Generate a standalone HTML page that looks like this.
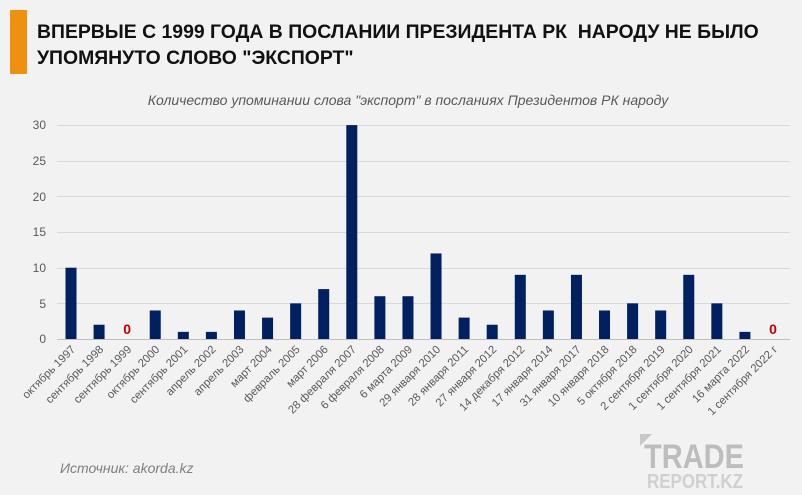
<!DOCTYPE html>
<html><head><meta charset="utf-8"><style>
body{margin:0;width:802px;height:495px;background:#f2f2f2;overflow:hidden;font-family:"Liberation Sans",sans-serif}
</style></head><body>
<svg width="802" height="495" xmlns="http://www.w3.org/2000/svg" style="position:absolute;left:0;top:0">
<rect x="10" y="10" width="17" height="64" fill="#f0900f"/>
<text x="37" y="38" font-size="19.4" font-weight="bold" fill="#111">ВПЕРВЫЕ С 1999 ГОДА В ПОСЛАНИИ ПРЕЗИДЕНТА РК&#160; НАРОДУ НЕ БЫЛО</text>
<text x="37" y="64" font-size="19.4" font-weight="bold" fill="#111">УПОМЯНУТО СЛОВО "ЭКСПОРТ"</text>
<text x="408" y="105" font-size="14" font-style="italic" fill="#595959" text-anchor="middle">Количество упоминании слова "экспорт" в посланиях Президентов РК народу</text>
<g stroke="#d9d9d9" stroke-width="1">
<line x1="57" x2="790" y1="339.5" y2="339.5" stroke="#bfbfbf"/>
<line x1="57" x2="790" y1="303.5" y2="303.5"/>
<line x1="57" x2="790" y1="268.5" y2="268.5"/>
<line x1="57" x2="790" y1="232.5" y2="232.5"/>
<line x1="57" x2="790" y1="196.5" y2="196.5"/>
<line x1="57" x2="790" y1="161.5" y2="161.5"/>
<line x1="57" x2="790" y1="125.5" y2="125.5"/>
</g>
<g font-size="12" fill="#595959" text-anchor="end">
<text x="46" y="343">0</text><text x="46" y="308">5</text><text x="46" y="272">10</text><text x="46" y="236">15</text><text x="46" y="201">20</text><text x="46" y="165">25</text><text x="46" y="129">30</text>
</g>
<g id="bars" fill="#002060"></g>
<g id="labels" font-size="11.3" fill="#595959"></g>
<text x="60" y="473" font-size="14" font-style="italic" fill="#7f7f7f">Источник: akorda.kz</text>
<polygon points="640,434 652,434 640,446" fill="#c8c8c8"/>
<text x="644" y="468" font-size="34" font-weight="bold" fill="#bdbdbd" textLength="100" lengthAdjust="spacingAndGlyphs">TRADE</text>
<text x="647" y="488" font-size="20" font-weight="bold" fill="#d0d0d0" textLength="96" lengthAdjust="spacingAndGlyphs">REPORT.KZ</text>
</svg>
<script>
var v=[10,2,0,4,1,1,4,3,5,7,30,6,6,12,3,2,9,4,9,4,5,4,9,5,1,0];
var n=["октябрь 1997","сентябрь 1998","сентябрь 1999","октябрь 2000","сентябрь 2001","апрель 2002","апрель 2003","март 2004","февраль 2005","март 2006","28 февраля 2007","6 февраля 2008","6 марта 2009","29 января 2010","28 января 2011","27 января 2012","14 декабря 2012","17 января 2014","31 января 2017","10 января 2018","5 октября 2018","2 сентября 2019","1 сентября 2020","1 сентября 2021","16 марта 2022","1 сентября 2022 г"];
var ns="http://www.w3.org/2000/svg",b=document.getElementById("bars"),l=document.getElementById("labels");
for(var i=0;i<26;i++){var c=71+i*28.08;
if(v[i]>0){var r=document.createElementNS(ns,"rect");var h=v[i]*7.13;r.setAttribute("x",c-5.5);r.setAttribute("y",339-h);r.setAttribute("width",11);r.setAttribute("height",h);b.appendChild(r);}
else{var z=document.createElementNS(ns,"text");z.setAttribute("x",c);z.setAttribute("y",334);z.setAttribute("text-anchor","middle");z.setAttribute("font-size","14");z.setAttribute("font-weight","bold");z.setAttribute("fill","#c00000");z.textContent="0";b.appendChild(z);}
var t=document.createElementNS(ns,"text");t.setAttribute("text-anchor","end");t.setAttribute("transform","translate("+(c+5)+",350) rotate(-45)");t.textContent=n[i];l.appendChild(t);}
</script>
</body></html>
